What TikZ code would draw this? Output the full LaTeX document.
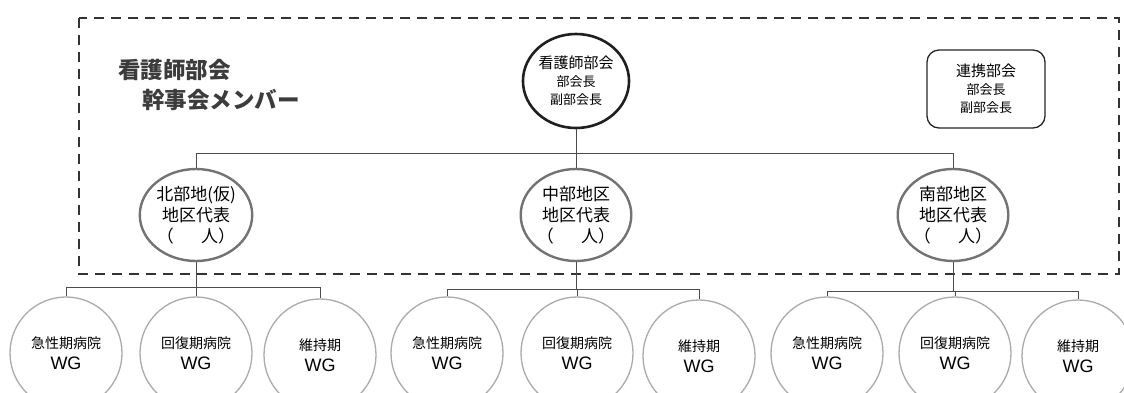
\documentclass[tikz,border=0pt]{standalone}
\usepackage{fontspec}
\setmainfont{Noto Sans CJK JP}
\newfontfamily\wgfont{Liberation Sans}
\usetikzlibrary{shapes.geometric}
\definecolor{titlegray}{HTML}{3C3C3C}
\tikzset{
  conn/.style={draw=black!70, line width=0.8pt},
  frame/.style={draw=black!80, line width=1.8pt, dash pattern=on 10pt off 7pt},
  topnode/.style={ellipse, draw=black!88, line width=2.6pt, minimum width=106pt, minimum height=94pt, inner sep=0pt, align=center, font=\fontsize{13}{18}\selectfont},
  linkbox/.style={draw=black!85, line width=1.3pt, rounded corners=12pt, minimum width=118pt, minimum height=78pt, inner sep=0pt, align=center, font=\fontsize{13}{18}\selectfont},
  region/.style={ellipse, draw=black!55, line width=2.4pt, minimum width=110pt, minimum height=92pt, inner sep=0pt, align=center, font=\fontsize{17}{21}\selectfont},
  wg/.style={ellipse, draw=black!33, line width=1.3pt, minimum width=112pt, minimum height=112pt, inner sep=0pt, align=center, font=\fontsize{14}{21}\selectfont},
  title/.style={anchor=west, text=titlegray, font=\bfseries\fontsize{22.5}{26}\selectfont, inner sep=0pt}
}
\newcommand{\wgtext}[1]{#1\\{\wgfont\fontsize{18}{21}\selectfont WG}}
\begin{document}
\begin{tikzpicture}[x=1pt,y=-1pt]
\useasboundingbox (0,0) rectangle (1124,392);
\clip (0,0) rectangle (1124,392);
\fill[white] (0,0) rectangle (1124,392);

% dashed frame
\draw[frame] (79,18) rectangle (1119,274);

% title
\node[title] (t1) at (118,70) {看護師部会};
\node[title] (t2) at (142,100) {幹事会メンバー};

% top
\node[topnode] (top) at (576,81) {{\fontsize{15}{18}\selectfont 看護師部会}\\部会長\\副部会長};
\node[linkbox] (link) at (986,89) {{\fontsize{15}{18}\selectfont 連携部会}\\部会長\\副部会長};

% regions
\node[region] (north) at (196,215) {北部地(仮)\\地区代表\\（\hspace{1.6em}人）};
\node[region] (mid) at (576,215) {中部地区\\地区代表\\（\hspace{1.6em}人）};
\node[region] (south) at (953,215) {南部地区\\地区代表\\（\hspace{1.6em}人）};

\coordinate (bus) at (576,153);
\draw[conn] (top.south) -- (bus);
\draw[conn] (north.north) -- (north.north |- bus) -- (south.north |- bus) -- (south.north);
\draw[conn] (mid.north) -- (mid.north |- bus);

% WG circles
\node[wg] (n1) at (66,353) {\wgtext{急性期病院}};
\node[wg] (n2) at (196,353) {\wgtext{回復期病院}};
\node[wg] (n3) at (320,355) {\wgtext{維持期}};
\node[wg] (m1) at (447,353) {\wgtext{急性期病院}};
\node[wg] (m2) at (577,353) {\wgtext{回復期病院}};
\node[wg] (m3) at (699,356) {\wgtext{維持期}};
\node[wg] (s1) at (827,353) {\wgtext{急性期病院}};
\node[wg] (s2) at (955,353) {\wgtext{回復期病院}};
\node[wg] (s3) at (1078,356) {\wgtext{維持期}};

\coordinate (nb) at (196,287);
\coordinate (mb) at (576,289);
\coordinate (sb) at (953,291);
\draw[conn] (north.south) -- (nb);
\draw[conn] (n1.north) -- (n1.north |- nb) -- (n3.north |- nb) -- (n3.north);
\draw[conn] (n2.north) -- (n2.north |- nb);
\draw[conn] (mid.south) -- (mb);
\draw[conn] (m1.north) -- (m1.north |- mb) -- (m3.north |- mb) -- (m3.north);
\draw[conn] (m2.north) -- (m2.north |- mb);
\draw[conn] (south.south) -- (sb);
\draw[conn] (s1.north) -- (s1.north |- sb) -- (s3.north |- sb) -- (s3.north);
\draw[conn] (s2.north) -- (s2.north |- sb);
\end{tikzpicture}
\end{document}
